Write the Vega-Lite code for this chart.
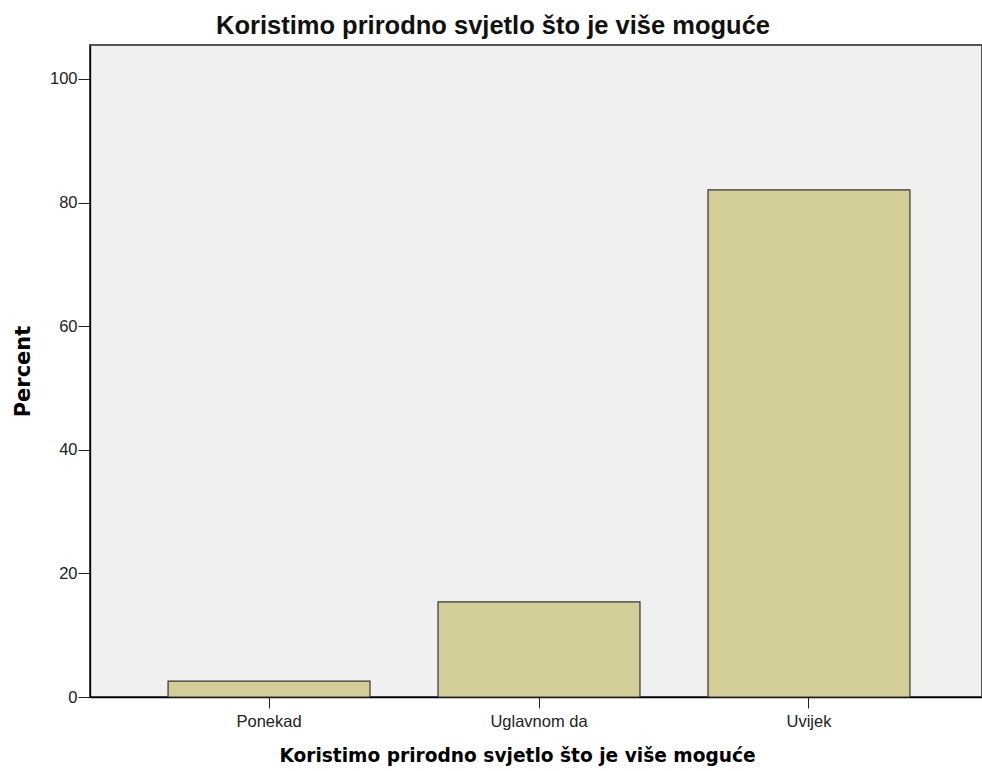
{
  "$schema": "https://vega.github.io/schema/vega-lite/v6.json",
  "width": 892,
  "height": 652,
  "autosize": {"type": "none"},
  "padding": {"left": 90, "top": 45, "right": 0, "bottom": 74},
  "background": "white",
  "title": {
    "text": "Koristimo prirodno svjetlo što je više moguće",
    "font": "Liberation Sans",
    "fontSize": 25.5,
    "fontWeight": "bold",
    "color": "#111111",
    "anchor": "middle",
    "dx": -43,
    "offset": 6
  },
  "data": {
    "values": [
      {"category": "Ponekad", "percent": 2.56},
      {"category": "Uglavnom da", "percent": 15.38},
      {"category": "Uvijek", "percent": 82.05}
    ]
  },
  "mark": {"type": "bar", "fill": "#d3ce97", "stroke": "#333333", "strokeWidth": 1.2},
  "encoding": {
    "x": {
      "field": "category",
      "type": "nominal",
      "sort": null,
      "scale": {"paddingInner": 0.252, "paddingOuter": 0.278, "align": 0.52},
      "axis": {
        "title": "Koristimo prirodno svjetlo što je više moguće",
        "titleFont": "DejaVu Sans",
        "titleFontSize": 18.6,
        "titleFontWeight": "bold",
        "titleColor": "#000000",
        "titlePadding": 17,
        "titleX": 427,
        "titleAnchor": null,
        "titleAlign": "center",
        "labelFont": "Liberation Sans",
        "labelFontSize": 16.5,
        "labelColor": "#222222",
        "labelAngle": 0,
        "labelPadding": 5,
        "tickSize": 11,
        "tickColor": "#222222",
        "domainColor": "#000000",
        "domainWidth": 1.3
      }
    },
    "y": {
      "field": "percent",
      "type": "quantitative",
      "scale": {"domain": [0, 105.5], "nice": false},
      "axis": {
        "title": "Percent",
        "titleFont": "DejaVu Sans",
        "titleFontSize": 21,
        "titleFontWeight": "bold",
        "titleColor": "#000000",
        "titlePadding": 16,
        "values": [0, 20, 40, 60, 80, 100],
        "labelFont": "Liberation Sans",
        "labelFontSize": 16.5,
        "labelColor": "#222222",
        "labelPadding": 1,
        "tickSize": 12,
        "tickColor": "#222222",
        "domainColor": "#000000",
        "domainWidth": 1.3,
        "grid": false
      }
    }
  },
  "config": {
    "view": {"fill": "#f0f0f0", "stroke": "#555555", "strokeWidth": 2}
  }
}
